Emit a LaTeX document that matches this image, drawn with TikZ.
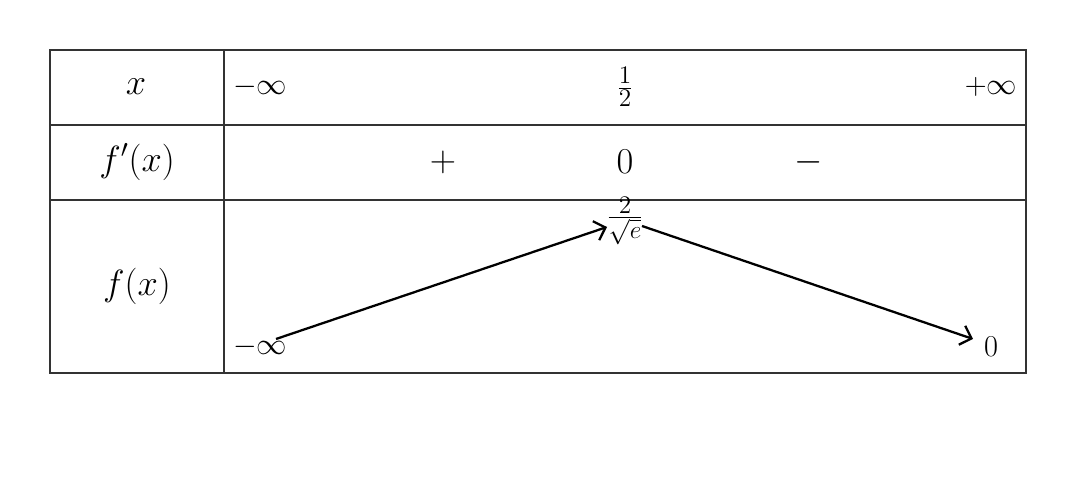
\documentclass[tikz,border=0pt]{standalone}
\usepackage{fontspec}
\setmainfont{DejaVu Sans}
\usetikzlibrary{arrows.meta, positioning}
\tikzset{
  big/.style={font=\fontsize{20}{24}\selectfont},
  small/.style={font=\fontsize{16}{19}\selectfont},
  frac/.style={font=\fontsize{19}{22}\selectfont},
  varrow/.style={line width=1.3pt, -{Straight Barb[length=2mm]}}
}
\begin{document}
\begin{tikzpicture}[x=0.02cm, y=-0.02cm]
\useasboundingbox (0,0) rectangle (1076,492);

% table frame
\draw [line width=1.3pt, black!80] (50,50) rectangle (1026,373);
\draw [line width=0.9pt, black!80] (224,50) -- (224,373);
\draw [line width=0.9pt, black!80] (50,125) -- (1026,125);
\draw [line width=0.6pt, black!80] (50,200) -- (1026,200);

% first column
\node (X) [big] at (136,87) {$x$};
\node (FP) [big] at (137,162) {$f'(x)$};
\node (F) [big] at (137,286) {$f(x)$};

% x row
\node (Xa) [small] at (260,87) {$-\infty$};
\node (Xb) [frac] at (625,87) {$\frac{1}{2}$};
\node (Xc) [small] at (991,87) {$+\infty$};

% sign row
\node (Sa) [big] at (443,162) {$+$};
\node (Sb) [big] at (625,162) {$0$};
\node (Sc) [big] at (809,162) {$-$};

% variations
\node (Va) [small, inner sep=1pt] at (260,347) {$-\infty$};
\node (Vb) [frac, inner sep=1pt] at (625,221) {$\frac{2}{\sqrt{e}}$};
\node (Vc) [small, inner sep=1pt] at (991,347) {$0$};
\coordinate (A1) at (276,339);
\coordinate (A2) at (607,227);
\coordinate (B1) at (642,226);
\coordinate (B2) at (973,339);

\draw [varrow] (A1) -- (A2);
\draw [varrow] (B1) -- (B2);
\end{tikzpicture}
\end{document}
